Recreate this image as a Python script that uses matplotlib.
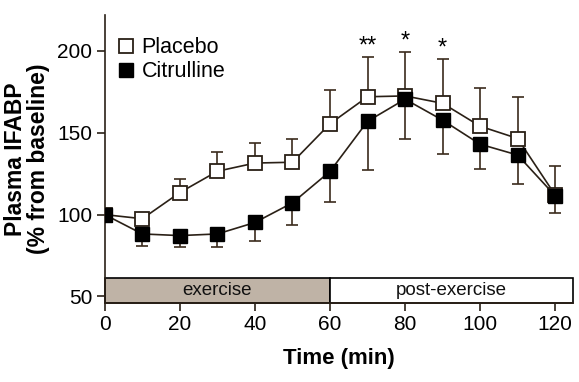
import matplotlib
matplotlib.use("Agg")
import matplotlib.pyplot as plt
from matplotlib.patches import Rectangle

plt.rcParams['font.family'] = ['Liberation Sans', 'DejaVu Sans']

time = [0, 10, 20, 30, 40, 50, 60, 70, 80, 90, 100, 110, 120]
placebo = [100, 97.5, 113.5, 126.5, 131.5, 132, 155.5, 172, 172.5, 168, 154, 146.5, 112]
placebo_err_up = [0, 3.5, 8.5, 11.5, 12.5, 14, 20.5, 24, 27, 27, 23.5, 25.5, 18]
citrulline = [100, 88.2, 87.2, 88.2, 95.2, 107.2, 126.4, 157, 170.5, 157.7, 143, 136.4, 111.5]
citrulline_err_down = [0, 7.2, 7.0, 8.0, 11.3, 13.4, 18.4, 30, 24.5, 20.7, 15.4, 17.4, 10.7]
star_times = [70, 80, 90]
star_labels = ['**', '*', '*']
star_y = [196, 199, 195]
phase_labels = ['exercise', 'post-exercise']
phase_ranges = [(0, 60), (60, 124.8)]
phase_colors = ['#bfb3a6', 'white']

line_c = '#2a2016'
err_c = '#3b2b1c'

fig = plt.figure(figsize=(5.79, 3.82), dpi=100)
ax = fig.add_axes([0.181, 0.208, 0.809, 0.753])

ax.errorbar(time, placebo, yerr=[[0]*len(time), placebo_err_up], fmt='none',
            ecolor=err_c, elinewidth=1.2, capsize=4, capthick=1.2, zorder=2)
ax.errorbar(time, citrulline, yerr=[citrulline_err_down, [0]*len(time)], fmt='none',
            ecolor=err_c, elinewidth=1.2, capsize=4, capthick=1.2, zorder=2)
ax.plot(time, placebo, color=line_c, lw=1.2, marker='s', markersize=10,
        markerfacecolor='white', markeredgecolor=line_c, markeredgewidth=1.3,
        label='Placebo', zorder=3)
ax.plot(time, citrulline, color=line_c, lw=1.2, marker='s', markersize=10,
        markerfacecolor='black', markeredgecolor='black',
        label='Citrulline', zorder=4)

for t, s, y in zip(star_times, star_labels, star_y):
    ax.text(t, y, s, ha='center', va='bottom', fontsize=17, color='black')

ymin, ybar = 46.3, 61
for (a, b), lab, col in zip(phase_ranges, phase_labels, phase_colors):
    ax.add_patch(Rectangle((a, ymin), b - a, ybar - ymin, facecolor=col,
                           edgecolor='black', lw=1.2, zorder=1, clip_on=False))
    ax.text((a + b) / 2, (ymin + ybar) / 2, lab, ha='center', va='center',
            fontsize=13.5, color='#111111', zorder=2)

ax.set_xlim(0, 124.8)
ax.set_ylim(ymin, 222)
ax.set_xticks([0, 20, 40, 60, 80, 100, 120])
ax.set_yticks([50, 100, 150, 200])
for sp in ['top', 'right']:
    ax.spines[sp].set_visible(False)
for sp in ['left', 'bottom']:
    ax.spines[sp].set_linewidth(1.2)
    ax.spines[sp].set_color(line_c)
ax.tick_params(axis='both', direction='out', length=6, width=1.2, color=line_c,
               labelsize=15, pad=3)

ax.set_xlabel('Time (min)', fontsize=16, fontweight='bold', labelpad=10)
ax.set_ylabel('Plasma IFABP\n(% from baseline)', fontsize=16.5, fontweight='bold',
              labelpad=5, linespacing=1.0)

ax.legend(loc='upper left', bbox_to_anchor=(0.0, 0.975), frameon=False,
          fontsize=15.5, handlelength=0.6, handletextpad=0.4, labelspacing=0.15,
          borderaxespad=0.3, numpoints=1)
leg = ax.get_legend()
for h in leg.legend_handles:
    h.set_linestyle('none')

fig.savefig('out.png', dpi=100)
